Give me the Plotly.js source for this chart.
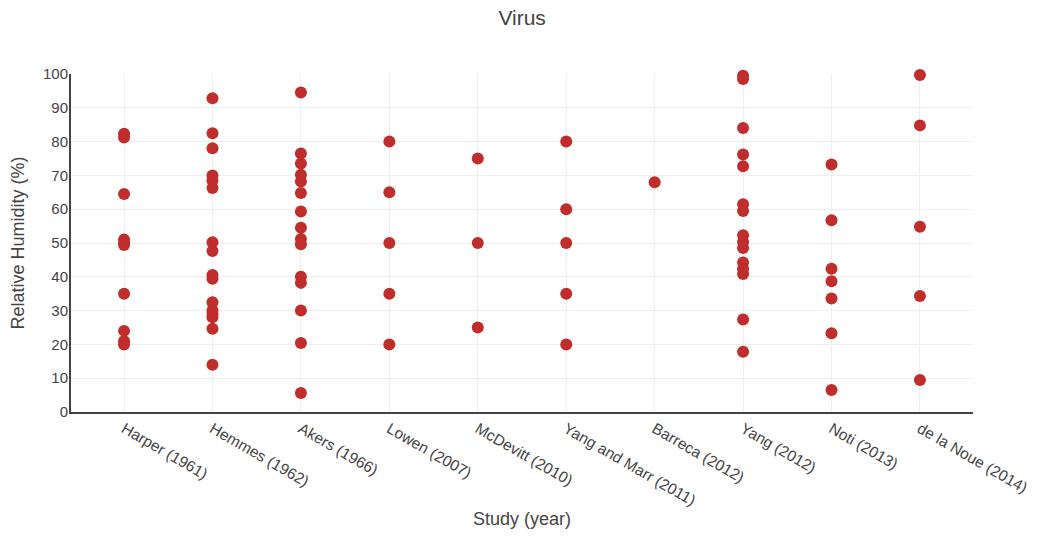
<!DOCTYPE html>
<html>
<head>
<meta charset="utf-8">
<script src="https://cdn.plot.ly/plotly-3.0.1.min.js"></script>
<style>html,body{margin:0;padding:0;background:#fff;}#chart{width:1038px;height:536px;}</style>
</head>
<body>
<div id="chart"></div>
<script>
const studies = ["Harper (1961)", "Hemmes (1962)", "Akers (1966)", "Lowen (2007)", "McDevitt (2010)",
  "Yang and Marr (2011)", "Barreca (2012)", "Yang (2012)", "Noti (2013)", "de la Noue (2014)"];

const harper = [82.3, 81.2, 64.5, 51, 50, 49.4, 35, 24, 21, 20];
const hemmes = [92.8, 82.5, 78, 70, 68.5, 66.3, 50.2, 47.6, 40.5, 39.4, 32.5, 30, 29, 28, 24.6, 14];
const akers = [94.5, 76.5, 73.5, 70.2, 68.2, 64.8, 59.3, 54.5, 51.2, 49.6, 40, 38.2, 30, 20.4, 5.6];
const lowen = [80, 65, 50, 35, 20];
const mcdevitt = [75, 50, 25];
const yangMarr = [80, 60, 50, 35, 20];
const barreca = [68];
const yang2012 = [99.5, 98.5, 84, 76.2, 72.7, 61.5, 59.5, 52.3, 50.3, 48.5, 44.2, 42.4, 40.8, 27.4, 17.8];
const noti = [73.2, 56.7, 42.4, 38.7, 33.6, 23.3, 6.5];
const delaNoue = [99.7, 84.8, 54.8, 34.3, 9.5];

const groups = [harper, hemmes, akers, lowen, mcdevitt, yangMarr, barreca, yang2012, noti, delaNoue];
const xs = [], ys = [];
groups.forEach((g, i) => g.forEach(v => { xs.push(studies[i]); ys.push(v); }));

const trace = {
  type: "scatter", mode: "markers", x: xs, y: ys,
  marker: {color: "rgb(192,45,45)", size: 12},
  cliponaxis: false, hoverinfo: "x+y"
};

const layout = {
  width: 1038, height: 536,
  margin: {l: 71, r: 65, t: 74, b: 124},
  paper_bgcolor: "#fff", plot_bgcolor: "#fff",
  font: {family: "Liberation Sans, Arial, sans-serif", color: "#444", size: 15},
  title: {text: "Virus", x: 0.503, xanchor: "center", yref: "container", y: 0.968, yanchor: "middle", font: {size: 21, color: "#444"}},
  showlegend: false,
  xaxis: {
    type: "category", categoryorder: "array", categoryarray: studies,
    range: [-0.6, 9.6], tickangle: 30, showgrid: true, gridcolor: "#eee", gridwidth: 1,
    showline: true, linecolor: "#444", linewidth: 2, ticks: "",
    tickfont: {size: 15.5, color: "#444"},
    title: {text: "Study (year)", font: {size: 18, color: "#444"}, standoff: 5}
  },
  yaxis: {
    range: [0, 100], dtick: 10, showgrid: true, gridcolor: "#eee", gridwidth: 1,
    showline: true, linecolor: "#444", linewidth: 2, zeroline: false, ticks: "",
    ticklabelstandoff: -2,
    tickfont: {size: 15, color: "#444"},
    title: {text: "Relative Humidity (%)", font: {size: 18, color: "#444"}}
  }
};

Plotly.newPlot("chart", [trace], layout, {displayModeBar: false, staticPlot: true});
</script>
</body>
</html>
